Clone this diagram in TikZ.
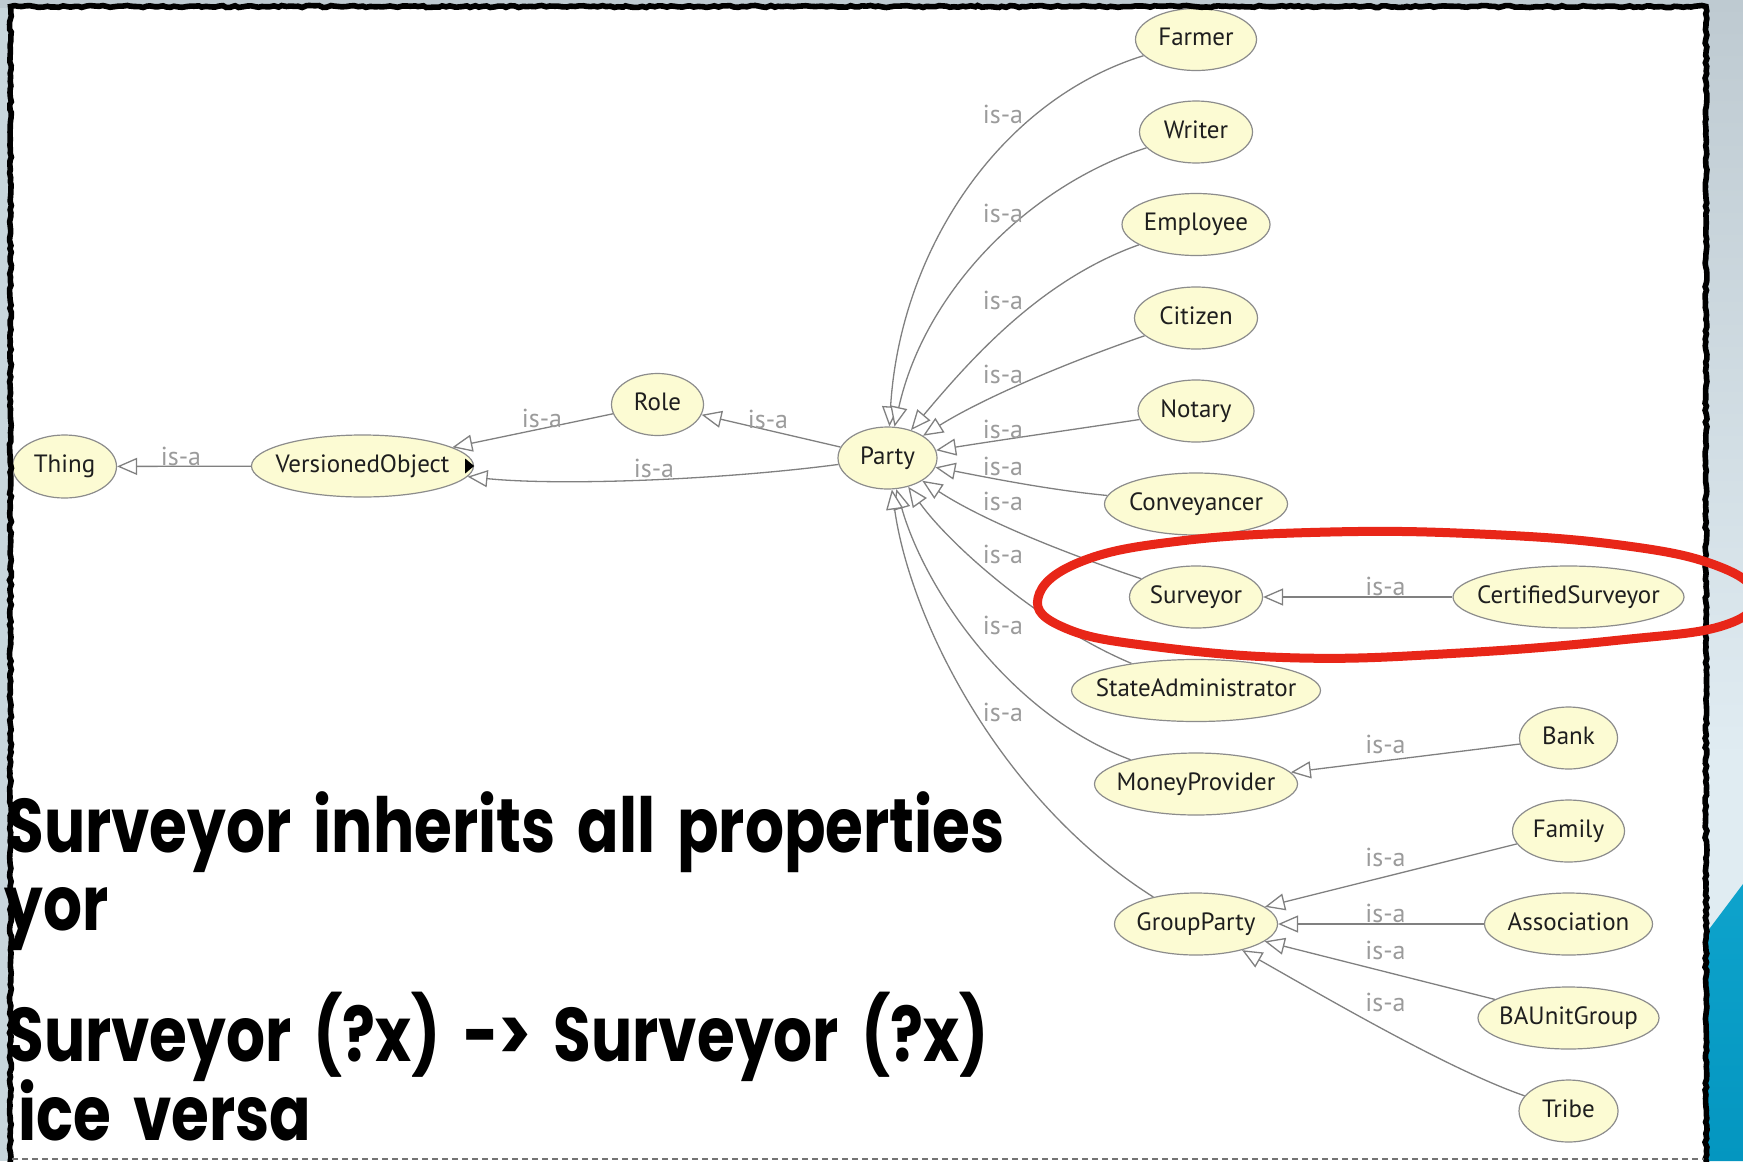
\documentclass[tikz,border=0pt]{standalone}
\usepackage{fontspec}
\usepackage{graphicx}
\setmainfont{PT Sans}
\newfontfamily\handfont{Poppins}
\usetikzlibrary{arrows.meta,shapes.geometric,decorations.pathmorphing}

\definecolor{nodefill}{RGB}{252,251,211}
\definecolor{nodeline}{RGB}{140,140,140}
\definecolor{nodetext}{RGB}{30,30,30}
\definecolor{edgecol}{RGB}{128,128,128}
\definecolor{lblcol}{RGB}{155,155,155}
\definecolor{marker}{RGB}{232,38,24}
\definecolor{slidegrey}{RGB}{190,202,209}
\definecolor{slidelight}{RGB}{224,236,242}
\definecolor{slideblue}{RGB}{14,163,204}
\definecolor{slideblue2}{RGB}{4,150,192}
\definecolor{stripleft}{RGB}{200,214,220}

\pgfdeclarelayer{backdrop}
\pgfdeclarelayer{links}
\pgfsetlayers{backdrop,links,main}

\newlength\headwd
\newcommand\headfont{\handfont\bfseries\fontsize{38}{40}\selectfont\spaceskip=0.36em\relax}
\newcommand\headtext[1]{\scalebox{\headsx}[1]{\headfont #1}}
\newcommand\cname[1]{\makebox[0pt]{#1}}

\tikzset{
  cls/.style={ellipse, draw=nodeline, fill=nodefill, line width=0.6pt, inner sep=0pt,
    minimum height=31pt, text height=9pt, text depth=3pt, text=nodetext,
    font=\fontsize{12.5}{14}\selectfont},
  isa/.style={draw=edgecol, line width=0.65pt,
    -{Triangle[open, fill=white, length=10pt, width=8.5pt]}},
  isalbl/.style={anchor=base, inner sep=0pt, text=lblcol, font=\fontsize{13}{14}\selectfont},
  headline/.style={inner sep=0pt, text=black},
}

\begin{document}
% horizontal squeeze so the headline spans the panel width
\settowidth\headwd{\headfont Surveyor inherits all properties}
\pgfmathsetmacro\headsx{499pt/\headwd}
\begin{tikzpicture}[x=0.5pt, y=-0.5pt]
\useasboundingbox (0,0) rectangle (1743,1161);
\clip (0,0) rectangle (1743,1161);

% slide backdrop around the panel
\begin{pgfonlayer}{backdrop}
\fill[stripleft] (0,0) rectangle (12,1161);
\fill[slidegrey] (0,0) rectangle (1743,8);
\shade[top color=slidegrey, bottom color=slidelight] (1704,0) rectangle (1743,760);
\fill[slidelight] (1704,760) rectangle (1743,1161);
\shade[top color=slideblue, bottom color=slideblue2]
  (1704,936) -- (1743,884) -- (1743,1161) -- (1704,1161) -- cycle;
\fill[white] (10,6) rectangle (1706,1161);
\end{pgfonlayer}

% class nodes
\node[cls, minimum width=52pt, minimum height=31.5pt] (thing) at (64.5,466.5) {\cname{Thing}};
\node[cls, minimum width=111pt] (vo) at (362.5,466) {\cname{VersionedObject}};
\node[cls, minimum width=46pt] (role) at (657.5,404.5) {\cname{Role}};
\node[cls, minimum width=49.5pt] (party) at (887.5,458) {\cname{Party}};

\node[cls, minimum width=60.5pt] (farmer) at (1196,39.5) {\cname{Farmer}};
\node[cls, minimum width=56.5pt] (writer) at (1196,132) {\cname{Writer}};
\node[cls, minimum width=74pt] (employee) at (1196,224.5) {\cname{Employee}};
\node[cls, minimum width=61.5pt] (citizen) at (1196,318) {\cname{Citizen}};
\node[cls, minimum width=58pt] (notary) at (1196,411) {\cname{Notary}};
\node[cls, minimum width=91.5pt] (conveyancer) at (1196,504) {\cname{Conveyancer}};
\node[cls, minimum width=66.5pt] (surveyor) at (1196,597) {\cname{Surveyor}};
\node[cls, minimum width=124.5pt] (stateadmin) at (1196,690.5) {\cname{StateAdministrator}};
\node[cls, minimum width=101.5pt] (moneyprovider) at (1196,784) {\cname{MoneyProvider}};
\node[cls, minimum width=81.5pt] (groupparty) at (1196,924) {\cname{GroupParty}};

\node[cls, minimum width=115.5pt] (certified) at (1568.5,597) {\cname{CertifiedSurveyor}};
\node[cls, minimum width=49pt] (bank) at (1568.5,738) {\cname{Bank}};
\node[cls, minimum width=56pt] (family) at (1568.5,831) {\cname{Family}};
\node[cls, minimum width=84pt] (association) at (1568.5,924) {\cname{Association}};
\node[cls, minimum width=90.5pt] (baunit) at (1568.5,1018) {\cname{BAUnitGroup}};
\node[cls, minimum width=49.5pt] (tribe) at (1568.5,1111) {\cname{Tribe}};

% expand marker of VersionedObject
\fill[black] (vo.east) ++(-9,-7.5) -- ++(0,15) -- ++(9,-7.5) -- cycle;

% is-a connectors
\begin{pgfonlayer}{links}
\draw[isa] (vo) -- (thing);
\draw[isa] (role) -- (vo);
\draw[isa] (party) -- (role);
\draw[isa] (party) .. controls (720,480) and (560,486) .. (vo);

\draw[isa] (farmer) .. controls (1000,100) and (900,250) .. (party);
\draw[isa] (writer) .. controls (1030,185) and (925,290) .. (party);
\draw[isa] (employee) .. controls (1040,280) and (970,360) .. (party);
\draw[isa] (citizen) .. controls (1060,365) and (980,400) .. (party);
\draw[isa] (notary) .. controls (1070,430) and (1000,440) .. (party);
\draw[isa] (conveyancer) .. controls (1050,490) and (990,478) .. (party);
\draw[isa] (surveyor) .. controls (1085,560) and (990,525) .. (party);
\draw[isa] (stateadmin) .. controls (1040,625) and (950,545) .. (party);
\draw[isa] (moneyprovider) .. controls (1010,715) and (925,590) .. (party);
\draw[isa] (groupparty) .. controls (1000,800) and (910,620) .. (party);

\draw[isa] (certified) -- (surveyor);
\draw[isa] (bank) -- (moneyprovider);
\draw[isa] (family) -- (groupparty);
\draw[isa] (association) -- (groupparty);
\draw[isa] (baunit) -- (groupparty);
\draw[isa] (tribe) .. controls (1450,1070) and (1330,1000) .. (groupparty);
\end{pgfonlayer}

% connector labels
\node[isalbl] (l1) at (181,465) {is-a};
\node[isalbl] (l2) at (542,427) {is-a};
\node[isalbl] (l3) at (768,428) {is-a};
\node[isalbl] (l4) at (654,477) {is-a};
\foreach \y [count=\i] in {123,222,309,383,438,475,510,563,634,721}
  \node[isalbl] (m\i) at (1003,\y) {is-a};
\foreach \y [count=\i] in {595,753,866,922,959,1011}
  \node[isalbl] (r\i) at (1385.5,\y) {is-a};

% panel frame
\pgfmathsetseed{7}
\draw[black, line width=2.8pt, decorate,
  decoration={random steps, segment length=2pt, amplitude=0.5pt}]
  (10.5,1165) -- (10.5,6.5) -- (1706,6.5) -- (1706,1165);
\draw[black!55, line width=1.2pt, dash pattern=on 3pt off 2pt] (12,1159) -- (1704,1159);

% red hand-drawn loop
\draw[marker, line width=4.5pt, line join=round]
  plot[smooth cycle, tension=0.7] coordinates {(1038,598) (1080,562) (1180,541) (1330,532)
  (1480,534) (1620,545) (1715,565) (1755,595) (1725,625) (1620,640) (1460,653) (1300,658)
  (1150,646) (1065,628)};
\draw[marker, line width=1.5pt]
  plot[smooth] coordinates {(1540,538) (1640,548) (1710,562) (1745,580)};

% slide text
\node[headline, anchor=base west] (h1) at (6,852) {\headtext{Surveyor inherits all properties}};
\node[headline, anchor=base west] (h2) at (4,930) {\headtext{yor}};
\node[headline, anchor=base west] (h3) at (6,1061) {\headtext{Surveyor (?x) -> Surveyor (?x)}};
\node[headline, anchor=base west] (h4) at (18,1140) {\headtext{ice versa}};
\end{tikzpicture}
\end{document}
